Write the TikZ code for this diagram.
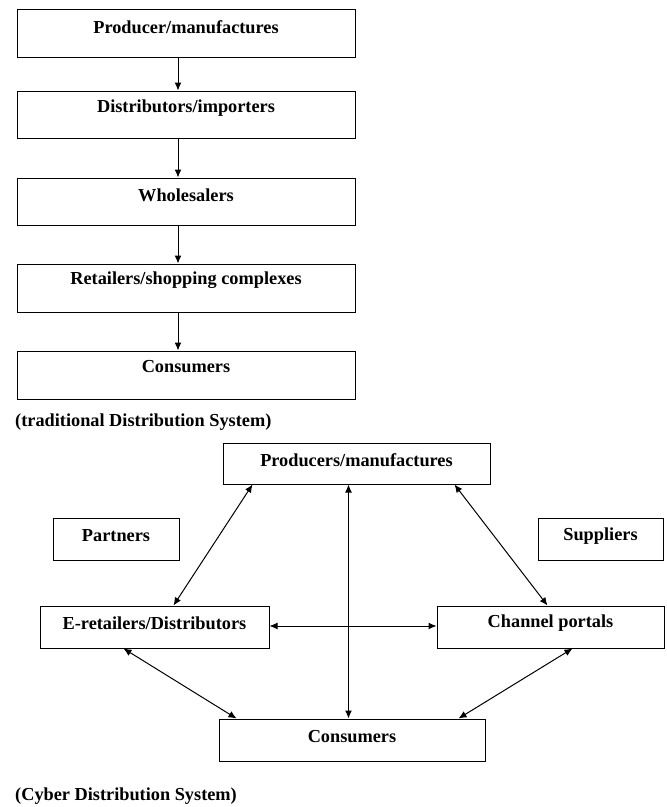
\documentclass[tikz,border=0pt]{standalone}
\usepackage{fontspec}
\setmainfont{Liberation Serif}
\usetikzlibrary{arrows.meta}
\begin{document}
\begin{tikzpicture}[x=1pt,y=-1pt,
  box/.style={draw, line width=1pt, rectangle, inner sep=0pt},
  lbl/.style={font=\fontsize{18.3}{20}\selectfont\bfseries, inner sep=0pt},
  arr/.style={line width=1pt, -{Latex[length=8pt,width=7pt]}},
  darr/.style={line width=1pt, {Latex[length=8pt,width=7pt]}-{Latex[length=8pt,width=7pt]}}]
\useasboundingbox (0,0) rectangle (667,807);
% traditional system
\node[box, minimum width=338pt, minimum height=48pt] (t1) at (186,33) {};
\node[box, minimum width=338pt, minimum height=47pt] (t2) at (186,114.5) {};
\node[box, minimum width=338pt, minimum height=47pt] (t3) at (186,201.5) {};
\node[box, minimum width=338pt, minimum height=48pt] (t4) at (186,288) {};
\node[box, minimum width=338pt, minimum height=48pt] (t5) at (186,375) {};
\node[lbl] (t1l) at (186,27) {Producer/manufactures};
\node[lbl] (t2l) at (186,108.5) {Distributors/importers};
\node[lbl] (t3l) at (186,195) {Wholesalers};
\node[lbl] (t4l) at (186,280.5) {Retailers/shopping complexes};
\node[lbl] (t5l) at (186,367) {Consumers};
\draw[arr] ([xshift=-8pt]t1.south) -- ([xshift=-8pt]t2.north);
\draw[arr] ([xshift=-8pt]t2.south) -- ([xshift=-8pt]t3.north);
\draw[arr] ([xshift=-8pt]t3.south) -- ([xshift=-8pt]t4.north);
\draw[arr] ([xshift=-8pt]t4.south) -- ([xshift=-8pt]t5.north);
\node[lbl, anchor=west] (cap1) at (15,422) {(traditional Distribution System)};
% cyber system
\node[box, minimum width=267pt, minimum height=41pt] (pc) at (356.5,463.5) {};
\node[box, minimum width=126pt, minimum height=42pt] (pa) at (116,539) {};
\node[box, minimum width=125pt, minimum height=42pt] (su) at (600.5,539) {};
\node[box, minimum width=229pt, minimum height=42pt] (er) at (154.5,627) {};
\node[box, minimum width=227pt, minimum height=42pt] (cp) at (550.5,627) {};
\node[box, minimum width=266pt, minimum height=42pt] (cs) at (352,740) {};
\node[lbl] (pcl) at (356.5,460) {Producers/manufactures};
\node[lbl] (pal) at (116,536) {Partners};
\node[lbl] (sul) at (600.5,536) {Suppliers};
\node[lbl] (erl) at (154.5,623.5) {E-retailers/Distributors};
\node[lbl] (cpl) at (550.5,623.5) {Channel portals};
\node[lbl] (csl) at (352,737) {Consumers};
\draw[darr] ([xshift=30pt]pc.south west) -- ([xshift=134pt]er.north west);
\draw[darr] ([xshift=232pt]pc.south west) -- ([xshift=111pt]cp.north west);
\draw[darr] ([xshift=126pt]pc.south west) -- ([xshift=130pt]cs.north west);
\draw[darr] ([yshift=1pt]er.east) -- ([yshift=1pt]cp.west);
\draw[darr] ([xshift=84pt]er.south west) -- ([xshift=18pt]cs.north west);
\draw[darr] ([xshift=136pt]cp.south west) -- ([xshift=240pt]cs.north west);
\node[lbl, anchor=west] (cap2) at (15,796) {(Cyber Distribution System)};
\end{tikzpicture}
\end{document}
